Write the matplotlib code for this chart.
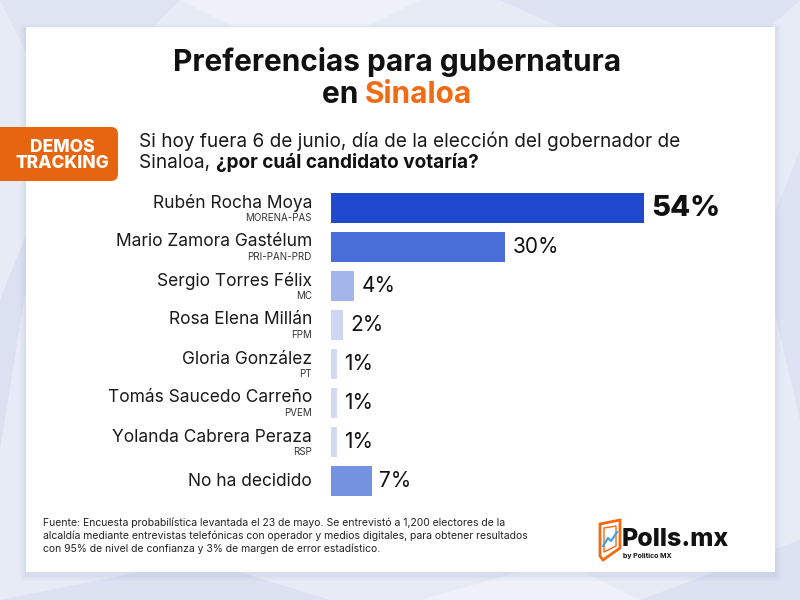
import matplotlib
matplotlib.use("Agg")
import matplotlib.pyplot as plt
from matplotlib.patches import FancyBboxPatch, Rectangle, Polygon

plt.rcParams['font.family'] = ['Inter', 'DejaVu Sans']

candidates = ["Rubén Rocha Moya", "Mario Zamora Gastélum", "Sergio Torres Félix",
              "Rosa Elena Millán", "Gloria González", "Tomás Saucedo Carreño",
              "Yolanda Cabrera Peraza", "No ha decidido"]
parties = ["MORENA-PAS", "PRI-PAN-PRD", "MC", "FPM", "PT", "PVEM", "RSP", ""]
values = [54, 30, 4, 2, 1, 1, 1, 7]
bar_colors = ["#1f49cc", "#4a6ed8", "#a3b5ea", "#cdd7f3", "#d3dbf2", "#d3dbf2", "#d3dbf2", "#7592e0"]

W, H = 800, 600
fig = plt.figure(figsize=(8, 6), dpi=100)
fig.patch.set_facecolor("#e7ebf6")

def fx(x):
    return x / W

def fy(y):
    return 1 - y / H

# background polygons
bg = fig.add_axes([0, 0, 1, 1])
bg.set_xlim(0, W); bg.set_ylim(H, 0); bg.axis("off")
polys = [
    ([(0, 0), (180, 0), (60, 120)], "#dfe4f3"),
    ([(180, 0), (420, 0), (300, 60)], "#eef1f9"),
    ([(500, 0), (800, 0), (700, 90)], "#dde3f2"),
    ([(0, 300), (40, 200), (0, 450)], "#dbe1f1"),
    ([(760, 250), (800, 150), (800, 420)], "#dde3f3"),
    ([(0, 600), (200, 560), (330, 600)], "#dce2f2"),
    ([(420, 600), (560, 560), (640, 600)], "#eef1f9"),
    ([(640, 600), (800, 540), (800, 600)], "#dce2f2"),
]
for pts, c in polys:
    bg.add_patch(Polygon(pts, closed=True, facecolor=c, edgecolor="none"))

# card shadow + card
for i, a in enumerate([0.04, 0.05, 0.06]):
    d = 6 - i * 2
    bg.add_patch(Rectangle((26 - d, 27 - d + 3), 749 + 2 * d, 545 + 2 * d,
                           facecolor="#8090b8", alpha=a, edgecolor="none"))
bg.add_patch(Rectangle((26, 27), 749, 545, facecolor="white", edgecolor="none"))

# badge
bg.add_patch(FancyBboxPatch((-20, 127), 138, 54, boxstyle="round,pad=0,rounding_size=7",
                            facecolor="#e8650f", edgecolor="none"))
bg.text(62, 147, "DEMOS", color="white", fontsize=12.5, fontweight="heavy",
        ha="center", va="center")
bg.text(62, 163, "TRACKING", color="white", fontsize=12.5, fontweight="heavy",
        ha="center", va="center")

renderer = fig.canvas.get_renderer()

# title
bg.text(397, 62, "Preferencias para gubernatura", fontsize=21.5, fontweight="bold",
        ha="center", va="center", color="#111111")
t1 = bg.text(0, 95, "en ", fontsize=21.5, fontweight="bold", ha="left", va="center", color="#111111")
t2 = bg.text(0, 95, "Sinaloa", fontsize=21.5, fontweight="bold", ha="left", va="center", color="#f26a12")
w1 = t1.get_window_extent(renderer).width
w2 = t2.get_window_extent(renderer).width
start = 397 - (w1 + w2) / 2
t1.set_x(start)
t2.set_x(start + w1)

# question
qs = 13.7
bg.text(139, 141, "Si hoy fuera 6 de junio, día de la elección del gobernador de",
        fontsize=qs, ha="left", va="center", color="#1a1a1a")
q1 = bg.text(139, 163, "Sinaloa, ", fontsize=qs, ha="left", va="center", color="#1a1a1a")
qw = q1.get_window_extent(renderer).width
bg.text(139 + qw, 163, "¿por cuál candidato votaría?", fontsize=qs, fontweight="bold",
        ha="left", va="center", color="#111111")

# bars
row_h = 39
top = 208 - row_h / 2
n = len(values)
ax = fig.add_axes([fx(331), fy(top + n * row_h), fx(60 * 5.8), n * row_h / H])
ax.set_xlim(0, 60)
ax.set_ylim(n - 0.5, -0.5)
ax.axis("off")
ys = list(range(n))
ax.barh(ys, values, height=0.75, color=bar_colors, edgecolor="none")
for i, v in enumerate(values):
    if i == 0:
        ax.text(v + 1.3, i, f"{v}%", fontsize=21, fontweight="heavy", va="center",
                ha="left", color="#111111", clip_on=False)
    else:
        ax.text(v + 1.3, i, f"{v}%", fontsize=15, va="center", ha="left",
                color="#111111", clip_on=False)

for i, (name, party) in enumerate(zip(candidates, parties)):
    cy = 208 + i * row_h
    if party:
        bg.text(312, cy - 5, name, fontsize=12.5, ha="right", va="center", color="#1a1a1a")
        bg.text(312, cy + 10, party, fontsize=7, ha="right", va="center", color="#333333")
    else:
        bg.text(312, cy, name, fontsize=12.5, ha="right", va="center", color="#1a1a1a")

# footer
footer = ["Fuente: Encuesta probabilística levantada el 23 de mayo. Se entrevistó a 1,200 electores de la",
          "alcaldía mediante entrevistas telefónicas con operador y medios digitales, para obtener resultados",
          "con 95% de nivel de confianza y 3% de margen de error estadístico."]
for i, line in enumerate(footer):
    bg.text(43, 523 + i * 13, line, fontsize=7.5, ha="left", va="center", color="#222222")

# logo
bg.add_patch(Polygon([(600, 524), (620, 520), (620, 548), (603, 560), (600, 556)],
                     closed=True, facecolor="none", edgecolor="#f26a12", linewidth=2))
bg.add_patch(Polygon([(604, 528), (616, 526), (616, 546), (604, 552)],
                     closed=True, facecolor="none", edgecolor="#f26a12", linewidth=1))
bg.plot([603, 608, 611, 617], [546, 538, 541, 532], color="#3aa0e8", linewidth=1.5)
bg.text(622, 540, "Polls.mx", fontsize=18, fontweight="heavy", ha="left", va="center",
        color="#111111")
bg.text(623, 556, "by Politico MX", fontsize=5, fontweight="bold", ha="left", va="center",
        color="#111111")

fig.savefig("out.png", dpi=100, facecolor=fig.get_facecolor())
